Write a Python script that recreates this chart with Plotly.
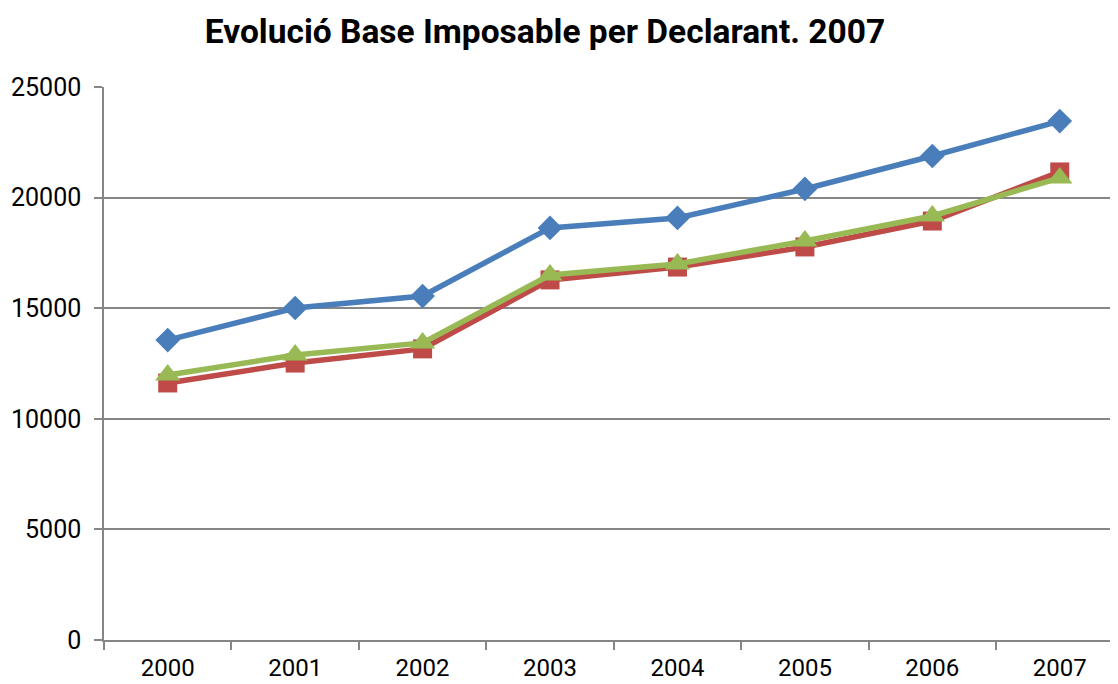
import plotly.graph_objects as go

years = ["2000", "2001", "2002", "2003", "2004", "2005", "2006", "2007"]
serie1 = [13560, 15010, 15550, 18630, 19080, 20390, 21880, 23460]
serie2 = [11620, 12520, 13160, 16280, 16860, 17770, 18940, 21160]
serie3 = [11980, 12880, 13430, 16500, 17000, 18040, 19170, 20890]
names = ["Sèrie1", "Sèrie2", "Sèrie3"]
title = "Evolució Base Imposable per Declarant. 2007"

fig = go.Figure()
styles = [
    (serie1, "#4A7EBB", "diamond", 19),
    (serie2, "#BE4B48", "square", 19),
    (serie3, "#98B954", "triangle-up", 22),
]
for (vals, col, sym, sz), nm in zip(styles, names):
    fig.add_trace(go.Scatter(
        x=years, y=vals, name=nm, mode="lines+markers",
        line=dict(color=col, width=5.5),
        marker=dict(symbol=sym, size=sz, color=col),
    ))

W, H = 1110, 676
fig.update_layout(
    width=W, height=H,
    margin=dict(l=96, r=0, t=79, b=44),
    paper_bgcolor="white", plot_bgcolor="white",
    showlegend=False,
    title=dict(text="<b>" + title + "</b>", x=537 / W, xanchor="center",
               y=1 - 23 / H, yanchor="middle",
               font=dict(family="Roboto", size=33.5, color="black")),
    font=dict(family="Roboto", size=25, color="black"),
)
fig.update_xaxes(
    type="category", range=[-0.5, 7.457], automargin=False,
    showline=True, linecolor="#868686", linewidth=1.5,
    ticks="outside", tickson="boundaries", ticklen=8, tickcolor="#868686", tickwidth=1.5,
    ticklabelstandoff=5,
    showgrid=False, tickfont=dict(family="Roboto", size=24, color="black"),
)
fig.update_yaxes(
    range=[0, 25000], tickvals=[0, 5000, 10000, 15000, 20000, 25000],
    tickformat="d", automargin=False,
    showline=True, linecolor="#868686", linewidth=1.5,
    ticks="outside", ticklen=8, tickcolor="#868686", tickwidth=1.5,
    ticklabelstandoff=8,
    showgrid=True, gridcolor="#868686", gridwidth=1.5,
    zeroline=False,
    tickfont=dict(family="Roboto", size=25, color="black"),
)
fig.write_html("out.html")
